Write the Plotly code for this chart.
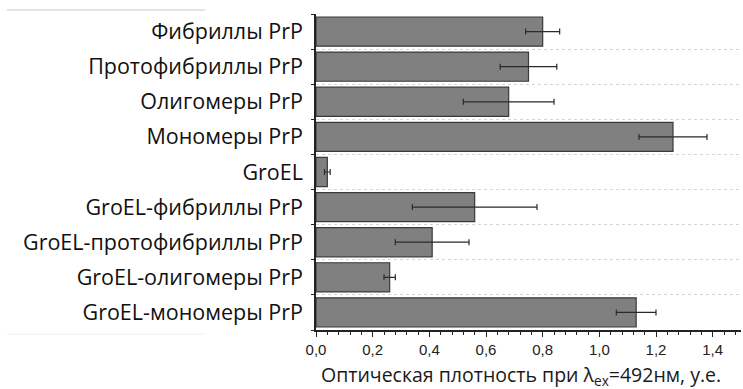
import plotly.graph_objects as go

# Samples, listed top to bottom as shown on the chart
samples = [
    "Фибриллы PrP",
    "Протофибриллы PrP",
    "Олигомеры PrP",
    "Мономеры PrP",
    "GroEL",
    "GroEL-фибриллы PrP",
    "GroEL-протофибриллы PrP",
    "GroEL-олигомеры PrP",
    "GroEL-мономеры PrP",
]
# Optical density, arbitrary units, and its error
density = [0.80, 0.75, 0.68, 1.26, 0.04, 0.56, 0.41, 0.26, 1.13]
density_err = [0.06, 0.10, 0.16, 0.12, 0.01, 0.22, 0.13, 0.02, 0.07]

x_ticks = [0.0, 0.2, 0.4, 0.6, 0.8, 1.0, 1.2, 1.4]
x_title = "Оптическая плотность при λ<sub>ex</sub>=492нм, у.е."

W, H = 743, 389
M_L, M_R, M_T, M_B = 316, 2, 14, 59
PW, PH = W - M_L - M_R, H - M_T - M_B

fig = go.Figure(
    go.Bar(
        x=density,
        y=samples,
        orientation="h",
        marker=dict(color="#808080", line=dict(color="#3a3a3a", width=1.2)),
        error_x=dict(
            type="data",
            array=density_err,
            color="#2a2a2a",
            thickness=1.2,
            width=3,
        ),
        hoverinfo="x+y",
    )
)

fig.update_layout(
    width=W,
    height=H,
    margin=dict(l=M_L, r=M_R, t=M_T, b=M_B),
    paper_bgcolor="white",
    plot_bgcolor="white",
    bargap=0.17,
    separators=", ",
    showlegend=False,
    font=dict(family="Open Sans, DejaVu Sans, sans-serif", color="#1a1a1a"),
)

fig.update_xaxes(
    range=[0, 1.5],
    tickvals=x_ticks,
    tickformat=".1f",
    ticks="outside",
    ticklen=5,
    tickwidth=1.2,
    tickcolor="#222",
    minor=dict(dtick=0.04, tick0=0, ticks="outside", ticklen=3, tickcolor="#222", showgrid=False),
    showline=True,
    linecolor="#222",
    linewidth=1.5,
    showgrid=False,
    zeroline=False,
    tickfont=dict(size=15, color="#222", family="Arial, Liberation Sans, sans-serif"),
)

fig.update_yaxes(
    categoryorder="array",
    categoryarray=samples[::-1],
    tickson="boundaries",
    ticks="outside",
    ticklen=3,
    tickwidth=1.2,
    tickcolor="#222",
    showline=True,
    linecolor="#222",
    linewidth=1.5,
    showgrid=True,
    gridcolor="#d4d4d4",
    griddash="dot",
    gridwidth=1,
    tickfont=dict(size=21.5, color="#111"),
    ticklabelstandoff=7,
)

# x-axis title, centred slightly left of the plot centre
fig.add_annotation(
    text=x_title,
    xref="paper", yref="paper",
    x=(521 - M_L) / PW, y=-(376 - (M_T + PH)) / PH,
    xanchor="center", yanchor="middle",
    showarrow=False,
    font=dict(size=19.5, color="#1a1a1a"),
)

# faint frame remnants around the label block
fig.add_shape(type="line", xref="paper", yref="paper",
              x0=-(M_L - 7) / PW, x1=-(M_L - 205) / PW,
              y0=1 + 4 / PH, y1=1 + 4 / PH,
              line=dict(color="#dcdcdc", width=1.5))
fig.add_shape(type="line", xref="paper", yref="paper",
              x0=-(M_L - 7) / PW, x1=-(M_L - 205) / PW,
              y0=-4 / PH, y1=-4 / PH,
              line=dict(color="#efefef", width=1))

fig.write_html("out.html")
